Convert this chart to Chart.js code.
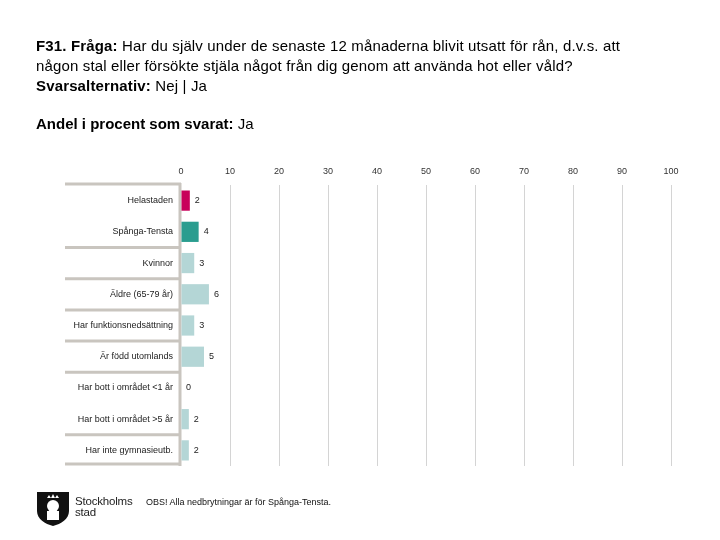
<!DOCTYPE html>
<html>
<head>
<meta charset="utf-8">
<script src="https://cdn.jsdelivr.net/npm/chart.js@4.4.0/dist/chart.umd.min.js"></script>
<style>
  body { margin: 0; background: #fff; font-family: "Liberation Sans", Arial, sans-serif; }
  #wrap { position: relative; width: 720px; height: 540px; }
  canvas { position: absolute; left: 0; top: 0; }
  .txt { position: absolute; color: #000; white-space: nowrap; }
  #rubrik { left: 36px; top: 36px; font-size: 15px; line-height: 20px; letter-spacing: 0.15px; }
  #andel { left: 36px; top: 114px; font-size: 15px; line-height: 20px; }
  #obs { left: 146px; top: 497px; font-size: 9px; color: #111; }
  #logo { position: absolute; left: 36px; top: 491px; }
  #logotext { left: 75px; top: 496px; font-size: 11.5px; line-height: 11px; color: #222; letter-spacing: -0.2px; }
</style>
</head>
<body>
<div id="wrap">
  <canvas id="graf" width="720" height="540"></canvas>
  <div class="txt" id="rubrik"><b>F31. Fråga:</b> Har du själv under de senaste 12 månaderna blivit utsatt för rån, d.v.s. att<br>någon stal eller försökte stjäla något från dig genom att använda hot eller våld?<br><b>Svarsalternativ:</b> Nej | Ja</div>
  <div class="txt" id="andel"><b>Andel i procent som svarat:</b> Ja</div>
  <svg id="logo" width="34" height="36" viewBox="0 0 34 36">
    <path d="M1 1 H33 V20 C33 28 25 33 17 35 C9 33 1 28 1 20 Z" fill="#111"/>
    <circle cx="17" cy="15" r="6" fill="#fff"/>
    <rect x="11" y="20" width="12" height="9" fill="#fff"/>
    <path d="M11 7 L13 4 L15 7 L17 3 L19 7 L21 4 L23 7 Z" fill="#fff"/>
  </svg>
  <div class="txt" id="logotext">Stockholms<br>stad</div>
  <div class="txt" id="obs">OBS! Alla nedbrytningar är för Spånga-Tensta.</div>
</div>
<script>
// ========== DATA ==========
const kategorier = ['Helastaden', 'Spånga-Tensta', 'Kvinnor', 'Äldre (65-79 år)', 'Har funktionsnedsättning',
  'Är född utomlands', 'Har bott i området <1 år', 'Har bott i området >5 år', 'Har inte gymnasieutb.'];
const andelJa = [1.8, 3.6, 2.7, 5.7, 2.7, 4.7, 0, 1.6, 1.6];
const stapelFarger = ['#c8005a', '#2a9d8f', '#b4d6d6', '#b4d6d6', '#b4d6d6', '#b4d6d6', '#b4d6d6', '#b4d6d6', '#b4d6d6'];
const xTicks = [0, 10, 20, 30, 40, 50, 60, 70, 80, 90, 100];
const avdelareEfter = [1, 2, 3, 4, 5, 7];

// Ramar runt etiketterna till vänster
const ramPlugin = {
  id: 'ram',
  beforeDatasetsDraw(chart) {
    const ctx = chart.ctx;
    const y = chart.scales.y;
    const area = chart.chartArea;
    ctx.save();
    ctx.strokeStyle = '#c9c5bf';
    ctx.lineWidth = 3;
    const linjer = [area.top - 1, area.bottom - 2];
    avdelareEfter.forEach(i => {
      linjer.push((y.getPixelForValue(i) + y.getPixelForValue(i + 1)) / 2);
    });
    linjer.forEach(ly => {
      ctx.beginPath();
      ctx.moveTo(65, ly);
      ctx.lineTo(area.left, ly);
      ctx.stroke();
    });
    ctx.beginPath();
    ctx.moveTo(area.left - 1, area.top - 2);
    ctx.lineTo(area.left - 1, area.bottom);
    ctx.stroke();
    ctx.restore();
  }
};

// Värden bredvid staplarna
const vardePlugin = {
  id: 'varden',
  afterDatasetsDraw(chart) {
    const ctx = chart.ctx;
    const meta = chart.getDatasetMeta(0);
    ctx.save();
    ctx.font = '9px "Liberation Sans", Arial, sans-serif';
    ctx.fillStyle = '#222';
    ctx.textAlign = 'left';
    ctx.textBaseline = 'middle';
    meta.data.forEach((bar, i) => {
      ctx.fillText(Math.round(andelJa[i]), bar.x + 5, bar.y);
    });
    ctx.restore();
  }
};

new Chart(document.getElementById('graf'), {
  type: 'bar',
  data: {
    labels: kategorier,
    datasets: [{
      data: andelJa,
      backgroundColor: stapelFarger,
      borderWidth: 0,
      barPercentage: 0.9,
      categoryPercentage: 0.72
    }]
  },
  options: {
    indexAxis: 'y',
    responsive: false,
    animation: false,
    layout: { padding: { top: 160, left: 0, right: 49, bottom: 74 } },
    plugins: { legend: { display: false }, tooltip: { enabled: false } },
    scales: {
      x: {
        position: 'top',
        min: 0,
        max: 100,
        afterBuildTicks: s => { s.ticks = xTicks.map(v => ({ value: v })); },
        afterFit: s => { s.height = 25; },
        grid: {
          color: ctx => ctx.tick && ctx.tick.value === 0 ? 'rgba(0,0,0,0)' : '#d4d4d4',
          drawTicks: false
        },
        border: { display: false },
        ticks: {
          padding: 8,
          color: '#333',
          font: { family: '"Liberation Sans", Arial, sans-serif', size: 9 }
        }
      },
      y: {
        afterFit: s => { s.width = 181; },
        grid: { display: false, drawTicks: false },
        border: { display: false },
        ticks: {
          padding: 8,
          color: '#222',
          autoSkip: false,
          font: { family: '"Liberation Sans", Arial, sans-serif', size: 9 }
        }
      }
    }
  },
  plugins: [ramPlugin, vardePlugin]
});
</script>
</body>
</html>
